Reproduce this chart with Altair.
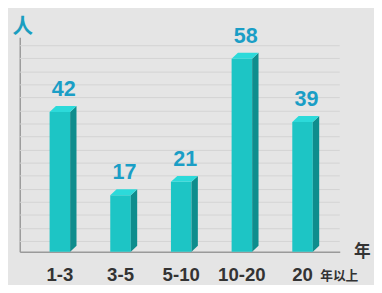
import altair as alt
import pandas as pd

categories = ["1-3", "3-5", "5-10", "10-20", "20"]
values = [42, 17, 21, 58, 39]
suffixes = ["", "", "", "", "年以上"]
y_unit = "人"
x_unit = "年"

W, H = 327, 219
STEP = 62.0
YMAX = 64.4
PXY = H / YMAX
XMIN = -41 / STEP
XMAX = (W - 41) / STEP
hw = 10.5 / STEP
d = 6.5 / STEP
e = 6.0 / PXY

front = pd.DataFrame({
    "cat": categories,
    "v": values,
    "xl": [i - hw for i in range(len(values))],
    "xr": [i + hw for i in range(len(values))],
    "xc": [i for i in range(len(values))],
    "suffix": suffixes,
})

side_rows, top_rows = [], []
for i, (c, v) in enumerate(zip(categories, values)):
    xl, xr = i - hw, i + hw
    side_rows += [
        {"cat": c, "x": xr, "y": v, "y2": 0},
        {"cat": c, "x": xr + d, "y": v + e, "y2": e},
    ]
    top_rows += [
        {"cat": c, "x": xl, "y": v, "y2": v},
        {"cat": c, "x": xl + d, "y": v + e, "y2": v},
        {"cat": c, "x": xr, "y": v + e, "y2": v},
        {"cat": c, "x": xr + d, "y": v + e, "y2": v + e},
    ]
side = pd.DataFrame(side_rows)
top = pd.DataFrame(top_rows)

# decorative grid lines every ~13.3 px starting 8 px below the plot top
grid = pd.DataFrame({"g": [(H - (8 + round(13.33 * k)) - 0.5) / PXY for k in range(16)]})

xs = alt.Scale(domain=[XMIN, XMAX], nice=False, zero=False)
ys = alt.Scale(domain=[0, YMAX], nice=False)

xaxis = alt.Axis(labels=False, ticks=False, grid=False, title=None,
                 domainColor="#9a9a9a", domainWidth=1.5)
yaxis = alt.Axis(labels=False, ticks=False, title=None, grid=False,
                 domainColor="#9a9a9a", domainWidth=1.5)

grid_layer = alt.Chart(grid).mark_rule(color="#d3d3d3", strokeWidth=1).encode(
    y=alt.Y("g:Q", scale=ys, axis=yaxis),
    x=alt.value(0),
    x2=alt.value(W),
)

front_layer = alt.Chart(front).mark_rect(color="#1dc5c5").encode(
    x=alt.X("xl:Q", scale=xs, axis=xaxis),
    x2="xr:Q",
    y=alt.Y("v:Q", scale=ys),
    y2=alt.datum(0),
)

side_layer = alt.Chart(side).mark_area(color="#0e8d8d", orient="vertical").encode(
    x=alt.X("x:Q", scale=xs),
    y=alt.Y("y:Q", scale=ys),
    y2="y2:Q",
    detail="cat:N",
)

top_layer = alt.Chart(top).mark_area(color="#2cdada", orient="vertical").encode(
    x=alt.X("x:Q", scale=xs),
    y=alt.Y("y:Q", scale=ys),
    y2="y2:Q",
    detail="cat:N",
)

num_layer = alt.Chart(front).mark_text(
    font="Liberation Sans", fontWeight="bold", fontSize=22,
    color="#1a9ec6", align="center", baseline="alphabetic", dx=4, dy=-16,
).encode(
    x=alt.X("xc:Q", scale=xs),
    y=alt.Y("v:Q", scale=ys),
    text="v:Q",
)

cat_layer = alt.Chart(front).mark_text(
    font="Liberation Sans", fontWeight="bold", fontSize=19,
    color="#333333", align="center", baseline="alphabetic",
).encode(
    x=alt.X("xc:Q", scale=xs),
    y=alt.value(H + 30),
    text="cat:N",
)

suf_layer = alt.Chart(front).mark_text(
    font="Noto Sans CJK SC", fontWeight="bold", fontSize=13,
    color="#333333", align="left", baseline="alphabetic", dx=18,
).encode(
    x=alt.X("xc:Q", scale=xs),
    y=alt.value(H + 29),
    text="suffix:N",
)

yunit_layer = alt.Chart(pd.DataFrame({"t": [y_unit]})).mark_text(
    font="Noto Sans CJK SC", fontWeight="bold", fontSize=21,
    color="#1a9ec0", align="center", baseline="top",
).encode(x=alt.value(3), y=alt.value(-21), text="t:N")

xunit_layer = alt.Chart(pd.DataFrame({"t": [x_unit]})).mark_text(
    font="Noto Sans CJK SC", fontWeight="bold", fontSize=17,
    color="#333333", align="center", baseline="alphabetic",
).encode(x=alt.value(350), y=alt.value(224), text="t:N")

chart = alt.layer(
    grid_layer, front_layer, side_layer, top_layer, num_layer, cat_layer,
    suf_layer, yunit_layer, xunit_layer,
).properties(
    width=W, height=H,
    autosize=alt.AutoSizeParams(type="none"),
    padding={"left": 12, "top": 27, "right": 35, "bottom": 31},
    background="#e5e5e5",
).configure_view(stroke=None)

chart.save("out.html", embed_options={"renderer": "svg", "actions": False})
